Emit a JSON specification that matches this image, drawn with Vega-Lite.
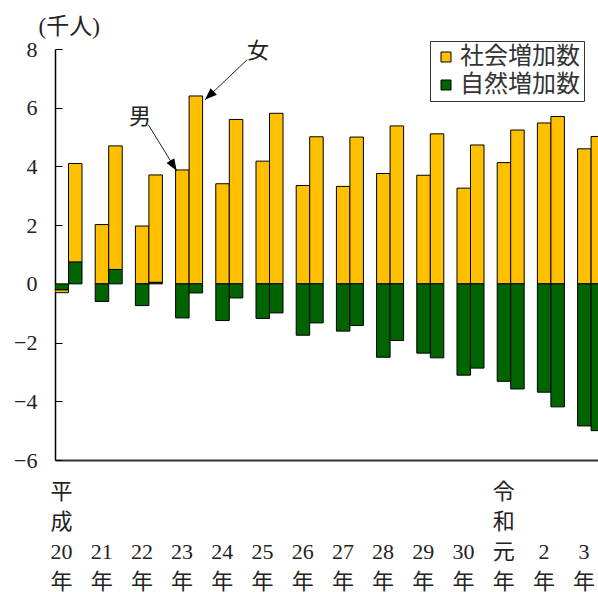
{
  "$schema": "https://vega.github.io/schema/vega-lite/v6.json",
  "width": 543,
  "height": 411,
  "autosize": {"type": "none"},
  "padding": {"left": 55, "top": 49, "right": 0, "bottom": 132},
  "background": "white",
  "config": {
    "view": {"stroke": null},
    "font": "Liberation Serif, Noto Sans CJK JP"
  },
  "datasets": {
    "bars": [
      {"year": "平成20年", "sex": "男", "type": "社会増加数", "value": -0.1},
      {"year": "平成20年", "sex": "男", "type": "自然増加数", "value": -0.2},
      {"year": "平成20年", "sex": "女", "type": "社会増加数", "value": 3.36},
      {"year": "平成20年", "sex": "女", "type": "自然増加数", "value": 0.74},
      {"year": "21年", "sex": "男", "type": "社会増加数", "value": 2.02},
      {"year": "21年", "sex": "男", "type": "自然増加数", "value": -0.6},
      {"year": "21年", "sex": "女", "type": "社会増加数", "value": 4.21},
      {"year": "21年", "sex": "女", "type": "自然増加数", "value": 0.49},
      {"year": "22年", "sex": "男", "type": "社会増加数", "value": 1.97},
      {"year": "22年", "sex": "男", "type": "自然増加数", "value": -0.74},
      {"year": "22年", "sex": "女", "type": "社会増加数", "value": 3.66},
      {"year": "22年", "sex": "女", "type": "自然増加数", "value": 0.05},
      {"year": "23年", "sex": "男", "type": "社会増加数", "value": 3.88},
      {"year": "23年", "sex": "男", "type": "自然増加数", "value": -1.16},
      {"year": "23年", "sex": "女", "type": "社会増加数", "value": 6.4},
      {"year": "23年", "sex": "女", "type": "自然増加数", "value": -0.31},
      {"year": "24年", "sex": "男", "type": "社会増加数", "value": 3.41},
      {"year": "24年", "sex": "男", "type": "自然増加数", "value": -1.25},
      {"year": "24年", "sex": "女", "type": "社会増加数", "value": 5.6},
      {"year": "24年", "sex": "女", "type": "自然増加数", "value": -0.48},
      {"year": "25年", "sex": "男", "type": "社会増加数", "value": 4.18},
      {"year": "25年", "sex": "男", "type": "自然増加数", "value": -1.18},
      {"year": "25年", "sex": "女", "type": "社会増加数", "value": 5.81},
      {"year": "25年", "sex": "女", "type": "自然増加数", "value": -0.99},
      {"year": "26年", "sex": "男", "type": "社会増加数", "value": 3.35},
      {"year": "26年", "sex": "男", "type": "自然増加数", "value": -1.75},
      {"year": "26年", "sex": "女", "type": "社会増加数", "value": 5.01},
      {"year": "26年", "sex": "女", "type": "自然増加数", "value": -1.33},
      {"year": "27年", "sex": "男", "type": "社会増加数", "value": 3.32},
      {"year": "27年", "sex": "男", "type": "自然増加数", "value": -1.61},
      {"year": "27年", "sex": "女", "type": "社会増加数", "value": 5.0},
      {"year": "27年", "sex": "女", "type": "自然増加数", "value": -1.42},
      {"year": "28年", "sex": "男", "type": "社会増加数", "value": 3.76},
      {"year": "28年", "sex": "男", "type": "自然増加数", "value": -2.5},
      {"year": "28年", "sex": "女", "type": "社会増加数", "value": 5.38},
      {"year": "28年", "sex": "女", "type": "自然増加数", "value": -1.93},
      {"year": "29年", "sex": "男", "type": "社会増加数", "value": 3.7},
      {"year": "29年", "sex": "男", "type": "自然増加数", "value": -2.36},
      {"year": "29年", "sex": "女", "type": "社会増加数", "value": 5.11},
      {"year": "29年", "sex": "女", "type": "自然増加数", "value": -2.52},
      {"year": "30年", "sex": "男", "type": "社会増加数", "value": 3.26},
      {"year": "30年", "sex": "男", "type": "自然増加数", "value": -3.11},
      {"year": "30年", "sex": "女", "type": "社会増加数", "value": 4.73},
      {"year": "30年", "sex": "女", "type": "自然増加数", "value": -2.87},
      {"year": "令和元年", "sex": "男", "type": "社会増加数", "value": 4.13},
      {"year": "令和元年", "sex": "男", "type": "自然増加数", "value": -3.32},
      {"year": "令和元年", "sex": "女", "type": "社会増加数", "value": 5.24},
      {"year": "令和元年", "sex": "女", "type": "自然増加数", "value": -3.58},
      {"year": "2年", "sex": "男", "type": "社会増加数", "value": 5.48},
      {"year": "2年", "sex": "男", "type": "自然増加数", "value": -3.69},
      {"year": "2年", "sex": "女", "type": "社会増加数", "value": 5.7},
      {"year": "2年", "sex": "女", "type": "自然増加数", "value": -4.19},
      {"year": "3年", "sex": "男", "type": "社会増加数", "value": 4.6},
      {"year": "3年", "sex": "男", "type": "自然増加数", "value": -4.84},
      {"year": "3年", "sex": "女", "type": "社会増加数", "value": 5.02},
      {"year": "3年", "sex": "女", "type": "自然増加数", "value": -5.0}
    ],
    "notes": [
      {"label": "男", "tx": 2.114, "ty": 5.69, "x0": 2.321, "y0": 5.42, "x1": 3.027, "y1": 3.85},
      {"label": "女", "tx": 5.05, "ty": 7.94, "x0": 4.784, "y0": 7.64, "x1": 3.731, "y1": 6.27}
    ]
  },
  "layer": [
    {
      "data": {"name": "bars"},
      "mark": {"type": "bar", "stroke": "#000", "strokeWidth": 1, "clip": true},
      "encoding": {
        "x": {
          "field": "year",
          "type": "nominal",
          "sort": null,
          "scale": {"range": [0, 549.6], "paddingInner": 0.328, "paddingOuter": 0, "round": false},
          "axis": {
            "title": null,
            "domainColor": "#333",
            "domainWidth": 2,
            "ticks": false,
            "tickSize": 0,
            "labelAngle": 0,
            "labelAlign": "center",
            "labelBaseline": "top",
            "labelPadding": 21,
            "labelOffset": -7,
            "labelLineHeight": 30,
            "labelFont": "Liberation Serif, Noto Sans CJK JP",
            "labelFontSize": 22,
            "labelColor": "#222",
            "labelOverlap": false,
            "labelExpr": "datum.value == '平成20年' ? ['平', '成', '20', '年'] : datum.value == '令和元年' ? ['令', '和', '元', '年'] : ['\u200b', '\u200b', replace(datum.value, '年', ''), '年']"
          }
        },
        "xOffset": {
          "field": "sex",
          "type": "nominal",
          "sort": ["男", "女"],
          "scale": {"paddingInner": 0, "paddingOuter": 0}
        },
        "y": {
          "field": "value",
          "type": "quantitative",
          "stack": "zero",
          "title": "(千人)",
          "scale": {"domain": [-6, 8], "nice": false, "zero": false},
          "axis": {
            "titleAngle": 0,
            "titleAlign": "left",
            "titleBaseline": "middle",
            "titleX": -17,
            "titleY": -23,
            "titleFont": "Liberation Serif, Noto Sans CJK JP",
            "titleFontSize": 23,
            "titleFontWeight": "normal",
            "titleColor": "#222",
            "values": [-6, -4, -2, 0, 2, 4, 6, 8],
            "grid": false,
            "domainColor": "#000",
            "domainWidth": 1.5,
            "tickColor": "#000",
            "tickSize": -7,
            "labelPadding": 25,
            "labelFont": "Liberation Serif",
            "labelFontSize": 22,
            "labelColor": "#222"
          }
        },
        "color": {
          "field": "type",
          "type": "nominal",
          "scale": {"domain": ["社会増加数", "自然増加数"], "range": ["#FFC000", "#006400"]},
          "legend": {
            "title": null,
            "orient": "none",
            "legendX": 375,
            "legendY": -8,
            "strokeColor": "#333",
            "fillColor": "#fff",
            "padding": 4,
            "rowPadding": 4,
            "symbolType": "square",
            "symbolSize": 100,
            "symbolStrokeColor": "#000",
            "symbolStrokeWidth": 1,
            "symbolOffset": 0,
            "labelOffset": 2,
            "labelFont": "Noto Sans CJK JP",
            "labelFontSize": 24,
            "labelColor": "#333",
            "labelLimit": 300
          }
        },
        "order": {"field": "type", "sort": "descending"}
      }
    },
    {
      "mark": {"type": "rule", "color": "#808080", "strokeWidth": 1},
      "encoding": {"y": {"datum": 0, "type": "quantitative"}}
    },
    {
      "data": {"name": "notes"},
      "encoding": {
        "x": {"type": "quantitative", "scale": {"domain": [0, 13.672], "range": [0, 549.6], "nice": false, "zero": false}, "axis": null},
        "y": {"type": "quantitative", "title": "(千人)"}
      },
      "layer": [
        {
          "mark": {"type": "rule", "color": "#222", "strokeWidth": 1},
          "encoding": {
            "x": {"field": "x0", "type": "quantitative"},
            "y": {"field": "y0", "type": "quantitative"},
            "x2": {"field": "x1"},
            "y2": {"field": "y1"}
          }
        },
        {
          "transform": [{"filter": "datum.label == '男'"}],
          "mark": {"type": "point", "shape": "M0,0L0.38,1L-0.38,1Z", "size": 576, "filled": true, "color": "#000", "opacity": 1, "strokeWidth": 0, "angle": 148.3},
          "encoding": {
            "x": {"field": "x1", "type": "quantitative"},
            "y": {"field": "y1", "type": "quantitative"}
          }
        },
        {
          "transform": [{"filter": "datum.label == '女'"}],
          "mark": {"type": "point", "shape": "M0,0L0.38,1L-0.38,1Z", "size": 576, "filled": true, "color": "#000", "opacity": 1, "strokeWidth": 0, "angle": 226.6},
          "encoding": {
            "x": {"field": "x1", "type": "quantitative"},
            "y": {"field": "y1", "type": "quantitative"}
          }
        },
        {
          "mark": {"type": "text", "font": "Noto Sans CJK JP", "fontSize": 22, "color": "#222", "align": "center", "baseline": "middle"},
          "encoding": {
            "x": {"field": "tx", "type": "quantitative"},
            "y": {"field": "ty", "type": "quantitative"},
            "text": {"field": "label"}
          }
        }
      ]
    }
  ],
  "resolve": {"scale": {"x": "independent"}, "axis": {"x": "independent"}}
}
